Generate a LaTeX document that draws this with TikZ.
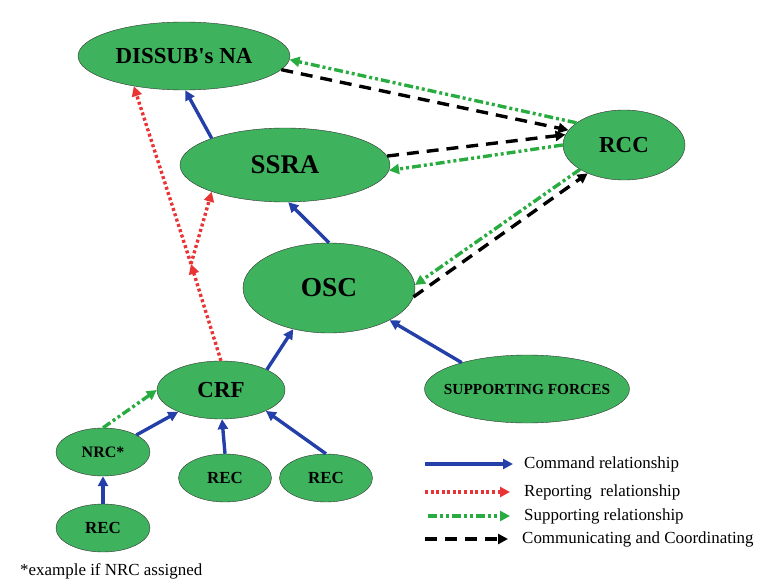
\documentclass[tikz,border=0pt]{standalone}
\usepackage{fontspec}
\setmainfont{Liberation Serif}
\usepackage{tikz}
\usetikzlibrary{shapes.geometric, arrows.meta, positioning}
\definecolor{leaf}{RGB}{62,178,92}
\definecolor{cmdblue}{RGB}{36,64,168}
\definecolor{repred}{RGB}{232,52,52}
\definecolor{supgreen}{RGB}{40,172,64}
\tikzset{
  unit/.style  ={ellipse, draw=black!80, fill=leaf, inner sep=0pt, font=\bfseries},
  tip/.style   ={-{Triangle[length=10bp,width=10bp]}},
  cmd/.style   ={tip, draw=cmdblue, line width=3.4pt},
  rep/.style   ={tip, draw=repred, line width=3.4pt,
                 dash pattern=on 3pt off 2.6pt},
  supp/.style  ={tip, draw=supgreen, line width=3.4pt,
                 dash pattern=on 9pt off 3pt on 3pt off 3pt on 3pt off 3pt},
  comm/.style  ={tip, draw=black, line width=3.4pt,
                 dash pattern=on 12pt off 8pt},
  lgd/.style   ={anchor=west, font=\fontsize{17}{19}\selectfont, inner sep=0pt},
}

\begin{document}
\begin{tikzpicture}[x=1bp, y=-1bp]
\useasboundingbox (0,0) rectangle (772,587);
% units
\node[unit, minimum width=212bp, minimum height=68bp, font=\bfseries\fontsize{23}{25}\selectfont] (na) at (184,56) {DISSUB\textquotesingle s NA};
\node[unit, minimum width=210bp, minimum height=74bp, font=\bfseries\fontsize{27}{29}\selectfont] (ssra) at (285,165) {SSRA};
\node[unit, minimum width=122bp, minimum height=70bp, font=\bfseries\fontsize{23}{25}\selectfont] (rcc) at (624,145) {RCC};
\node[unit, minimum width=172bp, minimum height=90bp, font=\bfseries\fontsize{27.5}{29}\selectfont] (osc) at (329,288) {OSC};
\node[unit, minimum width=128bp, minimum height=58bp, font=\bfseries\fontsize{23}{25}\selectfont] (crf) at (221,390) {CRF};
\node[unit, minimum width=205bp, minimum height=68bp, inner xsep=-12bp, font=\bfseries\fontsize{15.4}{17}\selectfont] (sf) at (527,389) {SUPPORTING FORCES};
\node[unit, minimum width=94bp, minimum height=48bp, font=\bfseries\fontsize{16}{18}\selectfont] (nrc) at (103,452) {NRC*};
\node[unit, minimum width=93bp, minimum height=48bp, font=\bfseries\fontsize{17}{19}\selectfont] (rec1) at (225,478) {REC};
\node[unit, minimum width=93bp, minimum height=48bp, font=\bfseries\fontsize{17}{19}\selectfont] (rec2) at (326,478) {REC};
\node[unit, minimum width=94bp, minimum height=48bp, font=\bfseries\fontsize{17}{19}\selectfont] (rec3) at (103,528) {REC};
\coordinate (split) at (191,264);

% command
\draw[cmd] (ssra.160) -- (na.-88);
\draw[cmd] (osc.north) -- (ssra.-85);
\draw[cmd] (crf.24) -- (osc.-131);
\draw[cmd] (sf.158) -- (osc.-28);
\draw[cmd] (nrc.27) -- (crf.-153);
\draw[cmd] (rec1.north) -- (crf.-88);
\draw[cmd] (rec2.north) -- (crf.-25);
\draw[cmd] (rec3) -- (nrc);
% reporting
\draw[rep] (crf.north) -- (split);
\draw[rep] (split) -- (na.-149);
\draw[rep] (split) -- (ssra.-160);
% supporting
\draw[supp] (nrc.north) -- (crf.west);
\draw[supp] (rcc.155) -- (na.-2);
\draw[supp] (rcc.west) -- (ssra.-3);
\draw[supp] (rcc.-151) -- (osc.2);
% communicating
\draw[comm] (na.-8) -- (rcc.165);
\draw[comm] (ssra.5) -- (rcc.170);
\draw[comm] (osc.-6) -- (rcc.-142);

% legend
\node[lgd] (l1) at (524,464) {Command relationship};
\node[lgd] (l2) at (524,492) {Reporting\ \ relationship};
\node[lgd] (l3) at (524,516) {Supporting relationship};
\node[lgd] (l4) at (522,539) {Communicating and Coordinating};
\coordinate (a1) at (425,464); \coordinate (a2) at (425,492);
\coordinate (a3) at (428,516); \coordinate (a4) at (425,539);
\draw[cmd] (a1) -- ([xshift=-11bp]l1.west);
\draw[rep] (a2) -- ([xshift=-14bp]l2.west);
\draw[supp] (a3) -- ([xshift=-14bp]l3.west);
\draw[comm] (a4) -- ([xshift=-14bp]l4.west);

\node[lgd] (note) at (20,571) {*example if NRC assigned};
\end{tikzpicture}
\end{document}
